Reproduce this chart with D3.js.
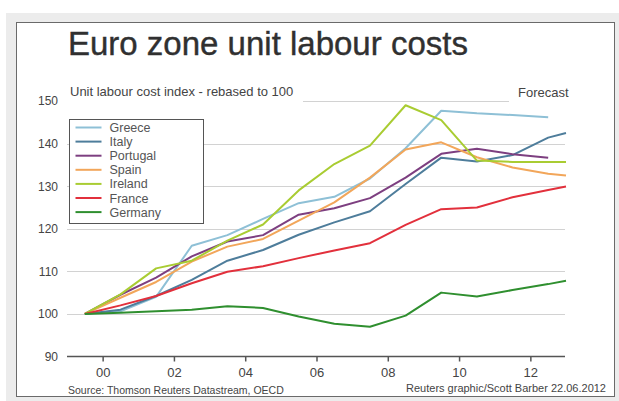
<!DOCTYPE html>
<html>
<head>
<meta charset="utf-8">
<script src="https://cdn.jsdelivr.net/npm/d3@7"></script>
<style>
    body { margin: 0; background: #fff; }
    svg { display: block; font-family: 'Liberation Sans', Arial, sans-serif; }
    .domain { display: none; }
</style>
</head>
<body>
<svg id="chart" width="619" height="401"></svg>
<script>
// years are plotted mid-year, the last forecast point sits at the year end
var years = [1999.5, 2000.5, 2001.5, 2002.5, 2003.5, 2004.5, 2005.5, 2006.5, 2007.5, 2008.5, 2009.5, 2010.5, 2011.5, 2012.5, 2013];

var countries = ['Greece', 'Italy', 'Portugal', 'Spain', 'Ireland', 'France', 'Germany'];
var colours = ['#8ec0d6', '#4e7d9b', '#7d3f80', '#f2a65a', '#a9cc32', '#e2303c', '#2f8f2f'];

var greece   = [100, 100.6, 104.0, 116.0, 118.5, 122.3, 126.0, 127.5, 131.8, 138.9, 147.7, 147.1, 146.7, 146.2];
var italy    = [100, 101.0, 104.2, 108.0, 112.5, 115.0, 118.6, 121.5, 124.1, 130.5, 136.7, 135.8, 137.3, 141.4, 142.5];
var portugal = [100, 104.5, 108.5, 113.5, 117.0, 118.5, 123.3, 124.8, 127.2, 132.0, 137.6, 138.8, 137.5, 136.7];
var spain    = [100, 103.8, 107.5, 112.3, 115.8, 117.6, 121.9, 126.2, 132.0, 138.6, 140.3, 136.8, 134.4, 132.9, 132.5];
var ireland  = [100, 104.6, 110.7, 112.5, 117.2, 121.0, 129.0, 135.2, 139.5, 149.0, 145.5, 136.0, 135.7, 135.7, 135.7];
var france   = [100, 102.0, 104.2, 107.2, 109.9, 111.2, 113.1, 114.9, 116.6, 120.9, 124.6, 125.0, 127.4, 129.1, 129.9];
var germany  = [100, 100.3, 100.6, 101.0, 101.8, 101.4, 99.4, 97.7, 97.0, 99.6, 105.0, 104.1, 105.6, 107.0, 107.8];

var xTicks = [2000, 2002, 2004, 2006, 2008, 2010, 2012];
var yTicks = [90, 100, 110, 120, 130, 140, 150];

var series = [greece, italy, portugal, spain, ireland, france, germany];

var svg = d3.select('#chart');

var x = d3.scaleLinear().domain([1999, 2013]).range([67, 566]);
var y = d3.scaleLinear().domain([90, 150]).range([356.5, 101]);

// frame
svg.append('rect')
    .attr('x', 6).attr('y', 13)
    .attr('width', 613).attr('height', 388)
    .attr('fill', '#ececec');

svg.append('rect')
    .attr('x', 16.5).attr('y', 22.5)
    .attr('width', 598).attr('height', 374)
    .attr('fill', '#fff')
    .attr('stroke', '#6a6a6a');

// gridlines
svg.append('g')
    .selectAll('line')
    .data(yTicks.slice(1))
    .enter().append('line')
    .attr('x1', x.range()[0])
    .attr('x2', x.range()[1] - 1)
    .attr('y1', function(d) { return Math.round(y(d)) + 0.5; })
    .attr('y2', function(d) { return Math.round(y(d)) + 0.5; })
    .attr('stroke', '#d2d2d2');

// y labels
var yAxis = svg.append('g')
    .attr('transform', 'translate(' + x.range()[0] + ',0)')
    .call(d3.axisLeft(y).tickValues(yTicks).tickSize(0).tickPadding(9));

yAxis.selectAll('text')
    .attr('fill', '#444')
    .style('font-size', '12px')
    .style('font-family', "'Liberation Sans', Arial, sans-serif");

// x axis
var xAxis = svg.append('g')
    .attr('transform', 'translate(0,' + y(90) + ')')
    .call(d3.axisBottom(x).tickValues(xTicks).tickSize(5).tickPadding(6)
        .tickFormat(function(d) { return String(d).slice(2); }));

xAxis.selectAll('line').attr('stroke', '#555').attr('stroke-width', 1.5);
xAxis.selectAll('text')
    .attr('fill', '#444')
    .style('font-size', '13px')
    .style('font-family', "'Liberation Sans', Arial, sans-serif");

svg.append('line')
    .attr('x1', x.range()[0]).attr('x2', x.range()[1] - 1)
    .attr('y1', y(90)).attr('y2', y(90))
    .attr('stroke', '#555')
    .attr('stroke-width', 1.5);

// lines
var line = d3.line()
    .x(function(d, i) { return x(years[i]); })
    .y(function(d) { return y(d); });

svg.append('g')
    .selectAll('path')
    .data(series)
    .enter().append('path')
    .attr('d', line)
    .attr('fill', 'none')
    .attr('stroke', function(d, i) { return colours[i]; })
    .attr('stroke-width', 2)
    .attr('stroke-linejoin', 'round');

// titles, with white behind the top labels so the 150 gridline breaks
svg.append('rect').attr('x', 67).attr('y', 90).attr('width', 236).attr('height', 15).attr('fill', '#fff');
svg.append('rect').attr('x', 509).attr('y', 90).attr('width', 60).attr('height', 15).attr('fill', '#fff');

svg.append('text')
    .attr('x', 68).attr('y', 55)
    .attr('fill', '#303030')
    .attr('stroke', '#303030')
    .attr('stroke-width', 0.4)
    .style('font-size', '33px')
    .text('Euro zone unit labour costs');

svg.append('text')
    .attr('x', 70).attr('y', 96)
    .attr('fill', '#444')
    .style('font-size', '13px')
    .text('Unit labour cost index - rebased to 100');

svg.append('text')
    .attr('x', 518).attr('y', 97)
    .attr('fill', '#444')
    .style('font-size', '13px')
    .text('Forecast');

svg.append('text')
    .attr('x', 68).attr('y', 394)
    .attr('fill', '#444')
    .style('font-size', '10.5px')
    .text('Source: Thomson Reuters Datastream, OECD');

svg.append('text')
    .attr('x', 606).attr('y', 391.5)
    .attr('text-anchor', 'end')
    .attr('fill', '#444')
    .style('font-size', '11px')
    .text('Reuters graphic/Scott Barber 22.06.2012');

// legend
var legend = svg.append('g').attr('transform', 'translate(69.5,119.5)');

legend.append('rect')
    .attr('width', 134).attr('height', 104)
    .attr('fill', '#fff')
    .attr('stroke', '#555');

var item = legend.selectAll('.item')
    .data(countries)
    .enter().append('g')
    .attr('transform', function(d, i) { return 'translate(0,' + (8 + i * 14.1) + ')'; });

item.append('line')
    .attr('x1', 6).attr('x2', 32)
    .attr('stroke', function(d, i) { return colours[i]; })
    .attr('stroke-width', 2);

item.append('text')
    .attr('x', 40).attr('y', 4.5)
    .attr('fill', '#555')
    .style('font-size', '12.5px')
    .text(function(d) { return d; });
</script>
</body>
</html>
